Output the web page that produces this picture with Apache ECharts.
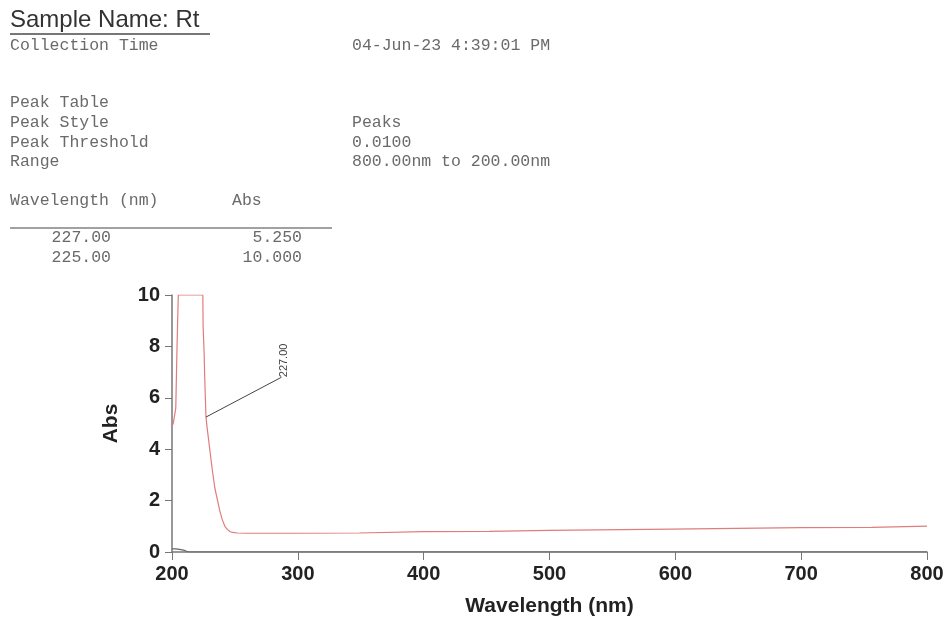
<!DOCTYPE html>
<html><head><meta charset="utf-8">
<script src="https://cdn.jsdelivr.net/npm/echarts@6/dist/echarts.min.js"></script>
<style>html,body{margin:0;padding:0;background:#fff}#c{width:948px;height:619px}</style>
</head><body><div id="c"></div>
<script>
// Spectrum data (wavelength nm, Abs)
var wavelength = [200,201,202,203,204,205,210,215,220,224.5,224.7,225.5,226,227,228,230,232,234,236,238,240,242,244,246,248,252,260,300,349,350,400,452,453,499,500,597,598,700,756,757,800];
var absorbance = [4.9,5.0,5.3,5.6,8.0,10,10,10,10,10,8.8,7.8,6.8,5.25,4.8,4.0,3.2,2.5,2.05,1.6,1.25,1.0,0.88,0.8,0.76,0.74,0.73,0.73,0.74,0.78,0.79,0.8,0.83,0.84,0.86,0.89,0.95,0.95,0.96,1.01,1.01];
// baseline trace near zero
var baseWl = [200,203,206,210,213,220,800];
var baseAbs = [0.12,0.12,0.1,0.06,0.0,0.0,0.0];
// peak annotation
var peakWl = [227, 287];
var peakAbs = [5.25, 6.8];
var peakLabel = '227.00';
// axis ticks
var xTicks = [200,300,400,500,600,700,800];
var yTicks = [0,2,4,6,8,10];
// header texts
var headerLeft = ['Collection Time','Peak Table','Peak Style','Peak Threshold','Range'];
var headerRight = ['04-Jun-23 4:39:01 PM','','Peaks','0.0100','800.00nm to 200.00nm'];
var tableWl = ['227.00','225.00'];
var tableAbs = ['5.250','10.000'];

function pairs(a,b){return a.map(function(v,i){return [v,b[i]];});}

var chart = echarts.init(document.getElementById('c'));
var mono = '"Liberation Mono","Courier New",monospace';
var txtColor = '#6a6a6a';
var headerY = [46,103,123,143,162];
var g = [];
g.push({type:'text',left:10,top:8,style:{text:'Sample Name: Rt',font:'24px "Liberation Sans",Arial',fill:'#333'}});
g.push({type:'line',shape:{x1:10,y1:34,x2:210,y2:34},style:{stroke:'#777',lineWidth:2}});
headerLeft.forEach(function(t,i){
  g.push({type:'text',x:10,y:headerY[i],style:{text:t,font:'16.5px '+mono,fill:txtColor,verticalAlign:'middle'}});
  if(headerRight[i]) g.push({type:'text',x:352,y:headerY[i],style:{text:headerRight[i],font:'16.5px '+mono,fill:txtColor,verticalAlign:'middle'}});
});
g.push({type:'text',x:10,y:201,style:{text:'Wavelength (nm)',font:'16.5px '+mono,fill:txtColor,verticalAlign:'middle'}});
g.push({type:'text',x:232,y:201,style:{text:'Abs',font:'16.5px '+mono,fill:txtColor,verticalAlign:'middle'}});
g.push({type:'line',shape:{x1:10,y1:228,x2:332,y2:228},style:{stroke:'#444',lineWidth:1.2}});
tableWl.forEach(function(t,i){
  g.push({type:'text',x:111,y:238+20*i,style:{text:t,font:'16.5px '+mono,fill:txtColor,align:'right',verticalAlign:'middle'}});
  g.push({type:'text',x:302,y:238+20*i,style:{text:tableAbs[i],font:'16.5px '+mono,fill:txtColor,align:'right',verticalAlign:'middle'}});
});

var narrow = '"Liberation Sans Narrow","Arial Narrow","Liberation Sans",Arial';
chart.setOption({
  animation:false,
  graphic:g,
  grid:{left:172,right:21,top:295,bottom:67,containLabel:false},
  xAxis:{type:'value',min:200,max:800,interval:100,
    name:'Wavelength (nm)',nameLocation:'middle',nameGap:44,
    nameTextStyle:{fontFamily:narrow,fontWeight:'bold',fontSize:21,color:'#222'},
    axisLine:{lineStyle:{color:'#777',width:1.5}},
    axisTick:{show:true,length:8,lineStyle:{color:'#777'}},
    axisLabel:{fontFamily:narrow,fontWeight:'bold',fontSize:20,color:'#222',margin:12,
      formatter:function(v){return xTicks.indexOf(v)>=0?String(v):'';}},
    splitLine:{show:false}},
  yAxis:{type:'value',min:0,max:10,interval:2,
    name:'Abs',nameLocation:'middle',nameGap:50,nameRotate:90,
    nameTextStyle:{fontFamily:narrow,fontWeight:'bold',fontSize:21,color:'#222'},
    axisLine:{show:true,lineStyle:{color:'#777',width:1.5}},
    axisTick:{show:true,length:7,lineStyle:{color:'#777'}},
    axisLabel:{fontFamily:narrow,fontWeight:'bold',fontSize:20,color:'#222',margin:12,
      formatter:function(v){return yTicks.indexOf(v)>=0?String(v):'';}},
    splitLine:{show:false}},
  series:[
    {type:'line',data:pairs(baseWl,baseAbs),showSymbol:false,lineStyle:{color:'#666',width:1.2},z:1},
    {type:'line',data:pairs(wavelength,absorbance),showSymbol:false,lineStyle:{color:'#e07c7c',width:1.2},z:2},
    {type:'line',data:pairs(peakWl,peakAbs),showSymbol:false,lineStyle:{color:'#444',width:1},z:3,
      label:{show:false},
      endLabel:{show:true,formatter:peakLabel,rotate:90,color:'#444',fontSize:11,fontFamily:'"Liberation Sans",Arial',distance:2}}
  ]
});
</script></body></html>
